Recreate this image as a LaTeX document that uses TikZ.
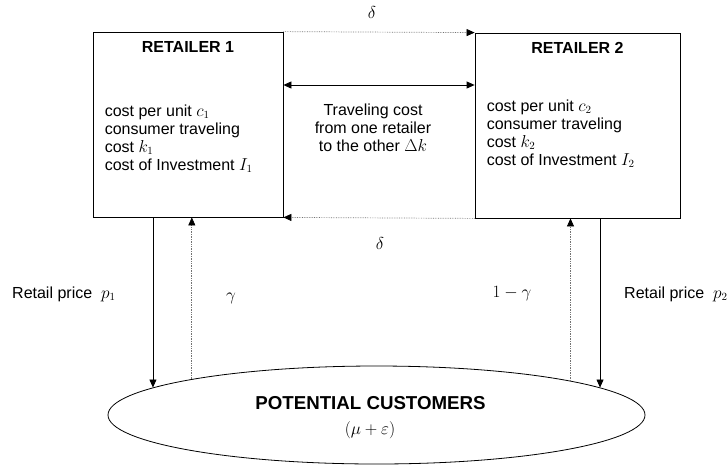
\documentclass[tikz,border=0pt]{standalone}
\usepackage{fontspec}
\setmainfont{Liberation Sans}
\usetikzlibrary{arrows.meta,shapes.geometric}
\tikzset{headtip/.tip={Triangle[length=8pt,width=7pt,color=black]}}
\begin{document}
\begin{tikzpicture}[x=1pt,y=-1pt,
  every node/.style={font=\fontsize{16}{18}\selectfont, inner sep=0pt},
  retailbox/.style={draw, line width=0.8pt, minimum width=#1, minimum height=185pt},
  title/.style={font=\fontsize{16}{18}\selectfont\bfseries},
  body/.style={align=left, anchor=north west},
  solidarr/.style={line width=0.8pt, -{headtip}},
  dotarr/.style={densely dotted, draw=black!55, line width=0.7pt, -{headtip}},
]
\useasboundingbox (0,0) rectangle (728,467);

% the two retailers
\node[retailbox=190pt] (r1) at (188,124.5) {};
\node[retailbox=205pt] (r2) at (577.5,125.5) {};

\node[title] (r1t) at ([yshift=-15.5pt]r1.north) {RETAILER 1};
\node[title] (r2t) at ([yshift=-15.5pt]r2.north) {RETAILER 2};

\node[body] (r1b) at ([xshift=12pt,yshift=-73pt]r1.north west)
  {cost per unit $c_1$\\consumer traveling\\cost $k_1$\\cost of Investment $I_1$};
\node[body] (r2b) at ([xshift=12pt,yshift=-67pt]r2.north west)
  {cost per unit $c_2$\\consumer traveling\\cost $k_2$\\cost of Investment $I_2$};

% the market
\node[draw, ellipse, line width=0.8pt, minimum width=537pt, minimum height=98pt] (cust) at (376.5,415) {};
\node[font=\fontsize{18.7}{20}\selectfont\bfseries] (custt) at ([xshift=-6pt,yshift=12pt]cust.center) {POTENTIAL CUSTOMERS};
\node (custs) at ([xshift=-6.5pt,yshift=-15pt]cust.center) {$(\mu+\varepsilon)$};

% links between the retailers
\draw[dotarr] (r1.north east) -- (r2.north west);
\draw[dotarr] (r2.south west) -- (r1.south east);
\draw[line width=0.8pt, {headtip}-{headtip}] ([yshift=39.5pt]r1.east) -- ([yshift=40.5pt]r2.west);

\node (d1) at (372,12) {$\delta$};
\node (d2) at (380,243) {$\delta$};
\node[align=center] (trav) at (373,128) {Traveling cost\\from one retailer\\to the other $\Delta k$};

% links to the customers
\draw[solidarr] (cust.173.3 |- r1.south) -- (cust.173.3);
\draw[dotarr] (cust.169.85) -- (cust.169.85 |- r1.south);
\draw[dotarr] (cust.10.8) -- (cust.10.8 |- r2.south);
\draw[solidarr] (cust.7.32 |- r2.south) -- (cust.7.32);

\node[anchor=west] (p1) at (12,294) {Retail price \ $p_1$};
\node (g1) at (231,298) {$\gamma$};
\node (g2) at (512,294) {$1-\gamma$};
\node[anchor=west] (p2) at (624,294) {Retail price \ $p_2$};
\end{tikzpicture}
\end{document}
